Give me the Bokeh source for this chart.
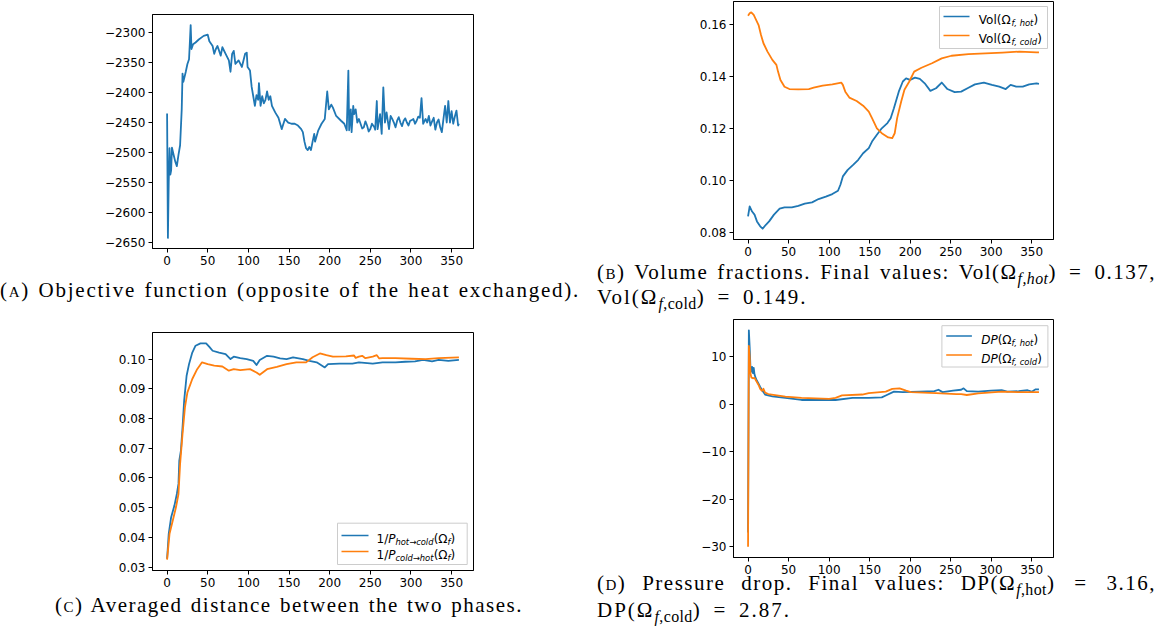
from bokeh.plotting import figure
from bokeh.layouts import row, column
from bokeh.models import (Range1d, FixedTicker, CustomJSTickFormatter, Label,
                          BoxAnnotation, Div)
from bokeh.embed import file_html
from bokeh.resources import INLINE

# ---------------- data ----------------
obj_iter = [0, 1, 2, 3, 4, 5, 6, 8, 10, 12,
            14, 16, 18, 19, 20, 23, 25, 27, 28, 29,
            30, 32, 35, 39, 45, 50, 52, 56, 58, 60,
            62, 66, 68, 72, 76, 78, 80, 82, 84, 88,
            92, 96, 98, 99, 102, 104, 106, 108, 110, 112,
            113, 115, 117, 119, 121, 123, 125, 127, 129, 133,
            137, 141, 145, 149, 153, 157, 161, 165, 167, 169,
            171, 173, 175, 177, 179, 181, 182, 186, 190, 194,
            197, 199, 202, 204, 208, 214, 218, 221, 223, 224,
            226, 227, 229, 230, 232, 234, 236, 238, 240, 242,
            244, 246, 248, 250, 252, 255, 256, 258, 259, 262,
            264, 266, 268, 270, 273, 275, 277, 279, 281, 283,
            285, 287, 289, 291, 293, 295, 297, 299, 301, 303,
            305, 307, 309, 311, 313, 315, 318, 320, 322, 324,
            326, 328, 330, 332, 334, 336, 338, 340, 342, 344,
            346, 348, 350, 352, 354, 356, 358, 359]
obj_val = [-2435, -2643, -2550, -2493, -2537, -2530, -2492, -2504, -2515, -2523,
           -2504, -2488, -2428, -2368, -2382, -2365, -2352, -2344, -2316, -2287,
           -2327, -2319, -2316, -2311, -2305, -2303, -2314, -2322, -2335, -2327,
           -2322, -2338, -2324, -2335, -2346, -2365, -2335, -2330, -2352, -2346,
           -2357, -2335, -2333, -2357, -2363, -2390, -2406, -2422, -2404, -2412,
           -2384, -2422, -2406, -2418, -2412, -2398, -2412, -2406, -2422, -2433,
           -2442, -2461, -2444, -2450, -2452, -2452, -2455, -2461, -2466, -2482,
           -2493, -2496, -2491, -2496, -2482, -2469, -2482, -2463, -2452, -2444,
           -2398, -2428, -2420, -2425, -2439, -2447, -2452, -2463, -2363, -2463,
           -2428, -2466, -2422, -2436, -2428, -2450, -2444, -2452, -2460, -2458,
           -2448, -2455, -2465, -2461, -2452, -2458, -2462, -2414, -2461, -2436,
           -2469, -2391, -2450, -2433, -2461, -2439, -2444, -2450, -2458, -2447,
           -2441, -2450, -2456, -2447, -2443, -2450, -2455, -2447, -2446, -2444,
           -2452, -2447, -2440, -2442, -2409, -2452, -2444, -2450, -2439, -2455,
           -2448, -2442, -2462, -2450, -2445, -2458, -2466, -2444, -2422, -2450,
           -2414, -2450, -2431, -2452, -2440, -2430, -2455, -2452]

vol_hot_iter = [0, 2, 5, 8, 11, 15, 18, 22, 26, 32, 39, 45, 54, 62, 70, 79, 87, 96,
                104, 111, 114, 117, 123, 130, 136, 142, 149, 153, 159, 165, 172,
                176, 180, 186, 191, 195, 200, 206, 212, 218, 225, 232, 239, 246,
                255, 263, 272, 280, 291, 301, 310, 318, 324, 331, 339, 347, 356, 359]
vol_hot = [0.0860, 0.0899, 0.0879, 0.0867, 0.0841, 0.0822, 0.0813, 0.0828, 0.0841,
           0.0867, 0.0890, 0.0895, 0.0895, 0.0901, 0.0909, 0.0914, 0.0927, 0.0936,
           0.0946, 0.0959, 0.0982, 0.1014, 0.1039, 0.1059, 0.1078, 0.1103, 0.1123,
           0.1148, 0.1174, 0.1199, 0.1219, 0.1238, 0.1276, 0.1340, 0.1379, 0.1391,
           0.1385, 0.1394, 0.1389, 0.1372, 0.1343, 0.1353, 0.1375, 0.1350, 0.1338,
           0.1340, 0.1355, 0.1368, 0.1375, 0.1366, 0.1359, 0.1350, 0.1366, 0.1359,
           0.1359, 0.1368, 0.1372, 0.1370]
vol_cold_iter = [0, 2, 4, 7, 13, 16, 19, 24, 30, 35, 37, 40, 45, 51, 62, 75, 81, 92,
                 104, 112, 115, 117, 120, 125, 134, 142, 149, 153, 159, 165, 173,
                 178, 181, 184, 189, 193, 199, 205, 214, 227, 239, 251, 272, 293,
                 314, 335, 356, 359]
vol_cold = [0.1632, 0.1641, 0.1645, 0.1635, 0.1596, 0.1558, 0.1526, 0.1494, 0.1462,
            0.1443, 0.1417, 0.1385, 0.1359, 0.1350, 0.1349, 0.1350, 0.1355, 0.1363,
            0.1368, 0.1373, 0.1375, 0.1366, 0.1340, 0.1317, 0.1304, 0.1286, 0.1263,
            0.1238, 0.1199, 0.1180, 0.1164, 0.1161, 0.1180, 0.1238, 0.1302, 0.1347,
            0.1379, 0.1417, 0.1432, 0.1449, 0.1468, 0.1478, 0.1484, 0.1487, 0.1490,
            0.1494, 0.1491, 0.1491]

dist_hot_iter = [0, 2, 5, 9, 12, 14, 15, 17, 19, 21, 24, 27, 31, 35, 41, 48, 52, 56,
                 64, 72, 78, 82, 90, 98, 106, 110, 114, 123, 131, 139, 147, 155, 167,
                 175, 184, 194, 198, 212, 228, 236, 253, 265, 281, 293, 305, 315,
                 326, 334, 346, 359]
dist_hot = [0.0328, 0.0412, 0.0468, 0.0507, 0.0546, 0.0580, 0.0658, 0.0692, 0.0770,
            0.0860, 0.0944, 0.0983, 0.1022, 0.1045, 0.1053, 0.1053, 0.1041, 0.1028,
            0.1022, 0.1017, 0.1000, 0.1008, 0.1003, 0.1000, 0.0994, 0.0980, 0.0997,
            0.1011, 0.1008, 0.1002, 0.1000, 0.1006, 0.1000, 0.0994, 0.0989, 0.0972,
            0.0983, 0.0985, 0.0985, 0.0989, 0.0985, 0.0989, 0.0989, 0.0991, 0.0992,
            0.0997, 0.0992, 0.0997, 0.0994, 0.0997]
dist_cold_iter = [0, 3, 7, 11, 14, 16, 19, 22, 25, 31, 37, 43, 50, 58, 68, 76, 82, 90,
                  102, 110, 114, 123, 135, 147, 159, 171, 179, 188, 196, 204, 220,
                  230, 232, 236, 240, 244, 253, 258, 261, 265, 281, 301, 318, 334, 359]
dist_cold = [0.0325, 0.0412, 0.0457, 0.0502, 0.0546, 0.0647, 0.0748, 0.0838, 0.0888,
             0.0933, 0.0966, 0.0989, 0.0983, 0.0978, 0.0975, 0.0961, 0.0966, 0.0963,
             0.0966, 0.0955, 0.0947, 0.0966, 0.0974, 0.0983, 0.0989, 0.0989, 0.1006,
             0.1019, 0.1013, 0.1008, 0.1009, 0.1012, 0.1004, 0.1008, 0.1011, 0.1003,
             0.1008, 0.1013, 0.1002, 0.1003, 0.1003, 0.1001, 0.1000, 0.1003, 0.1006]

dp_hot_iter = [0, 1, 2, 3, 4, 5, 6, 7, 8, 10, 12, 15, 17, 21, 30, 46, 66, 108, 129,
               149, 165, 170, 180, 191, 212, 230, 235, 240, 253, 263, 266, 270, 284,
               300, 313, 320, 334, 345, 350, 355, 359]
dp_hot = [-27.0, 15.5, 12.0, 7.5, 6.8, 7.8, 6.5, 7.6, 6.2, 5.2, 4.6, 3.6, 3.0, 2.0,
          1.6, 1.3, 0.85, 0.85, 1.3, 1.3, 1.4, 1.8, 2.6, 2.5, 2.6, 2.7, 3.0, 2.5, 2.8,
          3.0, 3.3, 2.7, 2.6, 2.8, 2.9, 2.6, 2.7, 2.9, 2.6, 3.1, 3.1]
dp_cold_iter = [0, 1, 2, 3, 4, 6, 8, 10, 13, 15, 17, 19, 21, 25, 46, 66, 100, 108, 116,
                141, 149, 170, 178, 187, 195, 201, 232, 257, 263, 270, 284, 313, 334,
                359]
dp_cold = [-30.0, 12.2, 10.0, 6.5, 5.6, 5.4, 5.5, 4.9, 4.0, 3.2, 2.8, 3.2, 2.4, 2.1,
           1.55, 1.3, 1.1, 1.3, 1.8, 2.0, 2.3, 2.6, 3.2, 3.3, 2.8, 2.5, 2.3, 2.1, 2.1,
           1.9, 2.25, 2.6, 2.5, 2.5]

x_ticks = [0, 50, 100, 150, 200, 250, 300, 350]
obj_ticks = [-2650, -2600, -2550, -2500, -2450, -2400, -2350, -2300]
vol_ticks = [0.08, 0.10, 0.12, 0.14, 0.16]
dist_ticks = [0.03, 0.04, 0.05, 0.06, 0.07, 0.08, 0.09, 0.10]
dp_ticks = [-30, -20, -10, 0, 10]

for a, b in [(obj_iter, obj_val), (vol_hot_iter, vol_hot), (vol_cold_iter, vol_cold),
             (dist_hot_iter, dist_hot), (dist_cold_iter, dist_cold),
             (dp_hot_iter, dp_hot), (dp_cold_iter, dp_cold)]:
    assert len(a) == len(b), (len(a), len(b))

BLUE = "#1f77b4"
ORANGE = "#ff7f0e"


def padded(lists):
    lo = min(min(v) for v in lists)
    hi = max(max(v) for v in lists)
    m = 0.05 * (hi - lo)
    return Range1d(lo - m, hi + m)


def make_fig(fw, fh, bl, br, bt, bb, xs, ys, yticks, dec):
    p = figure(frame_width=fw, frame_height=fh,
               min_border_left=bl, min_border_right=br,
               min_border_top=bt, min_border_bottom=bb,
               x_range=padded(xs), y_range=padded(ys),
               output_backend="svg", toolbar_location=None, title=None,
               margin=(0, 0, 0, 0))
    p.xaxis.ticker = FixedTicker(ticks=x_ticks)
    p.yaxis.ticker = FixedTicker(ticks=yticks)
    p.xaxis.formatter = CustomJSTickFormatter(
        code="return tick.toFixed(0).replace('-', '\u2212');")
    p.yaxis.formatter = CustomJSTickFormatter(
        code="return tick.toFixed(%d).replace('-', '\u2212');" % dec)
    for ax in (p.xaxis[0], p.yaxis[0]):
        ax.major_tick_in = 0
        ax.major_tick_out = 4
        ax.minor_tick_line_color = None
        ax.axis_line_color = "black"
        ax.major_tick_line_color = "black"
        ax.major_label_text_font = "DejaVu Sans"
        ax.major_label_text_font_size = "12px"
        ax.major_label_text_color = "black"
        ax.major_label_standoff = 3
    p.xgrid.visible = False
    p.ygrid.visible = False
    p.outline_line_color = "black"
    p.outline_line_alpha = 1
    p.outline_line_width = 1
    p.background_fill_color = "white"
    p.border_fill_color = "white"
    return p


# DejaVu Sans advance widths (em)
W = {' ': 0.318, '(': 0.390, ')': 0.390, '/': 0.337, ',': 0.318, '1': 0.636,
     'V': 0.684, 'o': 0.612, 'l': 0.278, 'Ω': 0.764, 'D': 0.770, 'P': 0.603,
     'f': 0.352, 'h': 0.634, 't': 0.392, 'c': 0.550, 'd': 0.635, '→': 0.838}


def tw(s, size):
    return sum(W.get(ch, 0.6) for ch in s) * size


def add_legend(p, box, rows, sample, text_x):
    left, right, bottom, top = box
    p.add_layout(BoxAnnotation(left=left, right=right, bottom=bottom, top=top,
                               left_units="screen", right_units="screen",
                               bottom_units="screen", top_units="screen",
                               fill_color="white", fill_alpha=0.8,
                               line_color="#cccccc", line_alpha=1, line_width=1))
    for yc, color, pieces in rows:
        p.add_layout(BoxAnnotation(left=sample[0], right=sample[1],
                                   bottom=yc - 0.85, top=yc + 0.85,
                                   left_units="screen", right_units="screen",
                                   bottom_units="screen", top_units="screen",
                                   fill_color=color, fill_alpha=1, line_alpha=0))
        x = text_x
        base = yc - 3.8
        for txt, size, style, dy in pieces:
            p.add_layout(Label(x=x, y=base + dy, x_units="screen", y_units="screen",
                               text=txt, text_font="DejaVu Sans",
                               text_font_size="%.1fpx" % size, text_font_style=style,
                               text_color="black", text_baseline="alphabetic",
                               text_align="left"))
            x += tw(txt, size)


LW = 1.8

# (A) objective
pA = make_fig(321, 234, 152, 124, 14, 24, [obj_iter], [obj_val], obj_ticks, 0)
pA.line(obj_iter, obj_val, line_color=BLUE, line_width=LW, line_join="round")

# (B) volume fractions
pB = make_fig(320, 238, 136, 103, 1, 21, [vol_hot_iter, vol_cold_iter],
              [vol_hot, vol_cold], vol_ticks, 2)
pB.line(vol_hot_iter, vol_hot, line_color=BLUE, line_width=LW, line_join="round")
pB.line(vol_cold_iter, vol_cold, line_color=ORANGE, line_width=LW, line_join="round")
add_legend(pB, (206, 314, 191, 233),
           [(223, BLUE, [("Vol(Ω", 12, "normal", 0), ("f, hot", 8.4, "italic", -3),
                         (")", 12, "normal", 0)]),
            (204, ORANGE, [("Vol(Ω", 12, "normal", 0), ("f, cold", 8.4, "italic", -3),
                           (")", 12, "normal", 0)])],
           (210, 236), 245.3)

# (C) averaged distance
pC = make_fig(321, 238, 145, 131, 24, 22, [dist_hot_iter, dist_cold_iter],
              [dist_hot, dist_cold], dist_ticks, 2)
pC.line(dist_hot_iter, dist_hot, line_color=BLUE, line_width=LW, line_join="round")
pC.line(dist_cold_iter, dist_cold, line_color=ORANGE, line_width=LW, line_join="round")
add_legend(pC, (185, 314.7, 6, 47.3),
           [(35, BLUE, [("1/", 12, "normal", 0), ("P", 12, "italic", 0),
                        ("hot→cold", 8.4, "italic", -3), ("(Ω", 12, "normal", 0),
                        ("f", 8.4, "italic", -3), (")", 12, "normal", 0)]),
            (19, ORANGE, [("1/", 12, "normal", 0), ("P", 12, "italic", 0),
                          ("cold→hot", 8.4, "italic", -3), ("(Ω", 12, "normal", 0),
                          ("f", 8.4, "italic", -3), (")", 12, "normal", 0)])],
           (189, 216), 224)

# (D) pressure drop
pD = make_fig(320, 238, 135, 104, 5, 20, [dp_hot_iter, dp_cold_iter],
              [dp_hot, dp_cold], dp_ticks, 0)
pD.line(dp_hot_iter, dp_hot, line_color=BLUE, line_width=LW, line_join="round")
pD.line(dp_cold_iter, dp_cold, line_color=ORANGE, line_width=LW, line_join="round")
add_legend(pD, (208.4, 314.4, 190.5, 231.8),
           [(221.5, BLUE, [("DP", 12, "italic", 0), ("(Ω", 12, "normal", 0),
                           ("f, hot", 8.4, "italic", -3), (")", 12, "normal", 0)]),
            (202.5, ORANGE, [("DP", 12, "italic", 0), ("(Ω", 12, "normal", 0),
                             ("f, cold", 8.4, "italic", -3), (")", 12, "normal", 0)])],
           (212.7, 238.4), 247.7)

# ---------------- captions ----------------
SERIF = ("font-family:'Liberation Serif','Times New Roman',serif;font-size:21px;"
         "color:#000;word-spacing:1.5px;")
SUB = ('<sub style="font-size:76%;vertical-align:-0.3em;line-height:0;'
       'letter-spacing:0.4px">')
EQ = '<span style="padding:0 3px">=</span>'


def sc(ch):
    return '<span style="font-variant:small-caps">%s</span>' % ch


def cap_single(text, width, inner_w, height, dy, ls):
    html = ('<div style="%s letter-spacing:%.2fpx;position:relative;top:%dpx;width:%dpx;'
            'text-align:center;white-space:nowrap;line-height:26px;">%s</div>') % (
        SERIF, ls, dy, inner_w, text)
    return Div(text=html, width=width, height=height, margin=(0, 0, 0, 0))


def cap_double(line1, line2, width, height, dy, lh):
    html = ('<div style="%s position:relative;top:%dpx;width:%dpx;line-height:%dpx;">'
            '<div style="text-align:justify;text-align-last:justify;letter-spacing:1.5px;">'
            '%s</div>'
            '<div style="text-align:left;white-space:nowrap;letter-spacing:2px;">%s</div>'
            '</div>') % (SERIF, dy, width, lh, line1, line2)
    return Div(text=html, width=width, height=height, margin=(0, 0, 0, 0))


divA = cap_single("(%s) Objective function (opposite of the heat exchanged)." % sc("a"),
                  597, 574, 36, 5, 1.75)
divC = cap_single("(%s) Averaged distance between the two phases." % sc("c"),
                  597, 578, 36, 0, 1.5)
divB = cap_double("(%s) Volume fractions. Final values: Vol(Ω%s<i>f,hot</i></sub>)"
                  " %s 0.137," % (sc("b"), SUB, EQ),
                  "Vol(Ω%s<i>f</i>,cold</sub>) %s 0.149." % (SUB, EQ), 559, 54, 0, 25)
divD = cap_double("(%s) Pressure drop. Final values: DP(Ω%s<i>f</i>,hot</sub>)"
                  " %s 3.16," % (sc("d"), SUB, EQ),
                  "DP(Ω%s<i>f</i>,cold</sub>) %s 2.87." % (SUB, EQ), 559, 51, -7, 27)

left = column(pA, divA, pC, divC, spacing=0)
right = column(pB, divB, pD, divD, spacing=0)
layout = row(left, right, spacing=0)

open("out.html", "w", encoding="utf-8").write(file_html(layout, INLINE))
